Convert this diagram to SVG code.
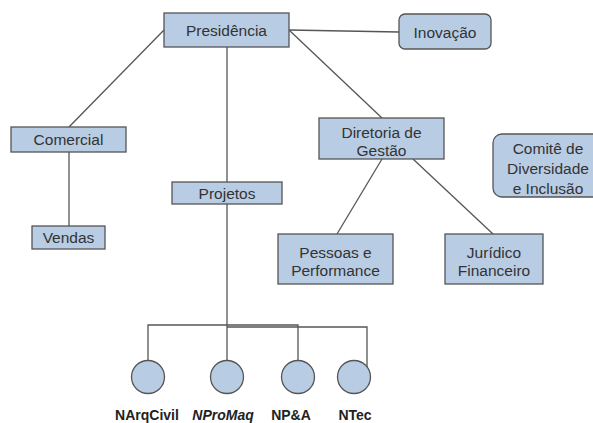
<svg xmlns="http://www.w3.org/2000/svg" width="593" height="423" viewBox="0 0 593 423">
<style>
.box{fill:#b8cce4;stroke:#555;stroke-width:1.3}
.t{font-family:"Liberation Sans",Arial,sans-serif;font-size:15.5px;fill:#333;text-anchor:middle}
.lbl{font-family:"Liberation Sans",Arial,sans-serif;font-size:14px;font-weight:bold;fill:#222;text-anchor:middle}
.c{fill:none;stroke:#555;stroke-width:1.3}
</style>
<rect width="593" height="423" fill="#fff"/>
<g id="connectors">
<line class="c" x1="164" y1="30" x2="69" y2="127"/>
<line class="c" x1="69" y1="152" x2="69" y2="226"/>
<line class="c" x1="227" y1="47" x2="227" y2="182"/>
<line class="c" x1="227" y1="204" x2="227" y2="361"/>
<line class="c" x1="289" y1="30" x2="399" y2="32"/>
<line class="c" x1="289" y1="30" x2="382" y2="118"/>
<line class="c" x1="382" y1="159" x2="337" y2="234"/>
<line class="c" x1="413" y1="159" x2="493" y2="234"/>
<polyline class="c" points="148,361 148,325 298,325 298,361"/>
<polyline class="c" points="227,327 367,327 367,372"/>
</g>
<g id="presidencia"><rect class="box" x="164" y="13" width="125" height="34"/><text class="t" x="226.5" y="35.5">Presidência</text></g>
<g id="inovacao"><rect class="box" x="399" y="14" width="92" height="35" rx="6"/><text class="t" x="445" y="37.5">Inovação</text></g>
<g id="comercial"><rect class="box" x="11" y="127" width="115" height="25"/><text class="t" x="68.5" y="145">Comercial</text></g>
<g id="vendas"><rect class="box" x="32" y="226" width="73" height="23"/><text class="t" x="68.5" y="243">Vendas</text></g>
<g id="projetos"><rect class="box" x="172" y="182" width="110" height="22"/><text class="t" x="227" y="198.5">Projetos</text></g>
<g id="diretoria"><rect class="box" x="319" y="118" width="125" height="41"/><text class="t" x="381.5" y="137.5">Diretoria de</text><text class="t" x="381.5" y="155.5">Gestão</text></g>
<g id="comite"><rect class="box" x="493" y="134" width="110" height="63" rx="9"/><text class="t" x="548" y="153.5">Comitê de</text><text class="t" x="548" y="173.5">Diversidade</text><text class="t" x="548" y="193.5">e Inclusão</text></g>
<g id="pessoas"><rect class="box" x="278" y="234" width="115" height="50"/><text class="t" x="335.5" y="257.5">Pessoas e</text><text class="t" x="335.5" y="275.5">Performance</text></g>
<g id="juridico"><rect class="box" x="445" y="234" width="98" height="50"/><text class="t" x="494" y="257.5">Jurídico</text><text class="t" x="494" y="275.5">Financeiro</text></g>
<g id="narqcivil"><circle class="box" cx="148" cy="377" r="16.5"/><text class="lbl" x="147" y="420">NArqCivil</text></g>
<g id="npromaq"><circle class="box" cx="227" cy="377" r="16.5"/><text class="lbl" x="223" y="420" font-style="italic">NProMaq</text></g>
<g id="npa"><circle class="box" cx="298" cy="377" r="16.5"/><text class="lbl" x="291" y="420">NP&amp;A</text></g>
<g id="ntec"><circle class="box" cx="354" cy="377" r="16.5"/><text class="lbl" x="355" y="420">NTec</text></g>
</svg>
